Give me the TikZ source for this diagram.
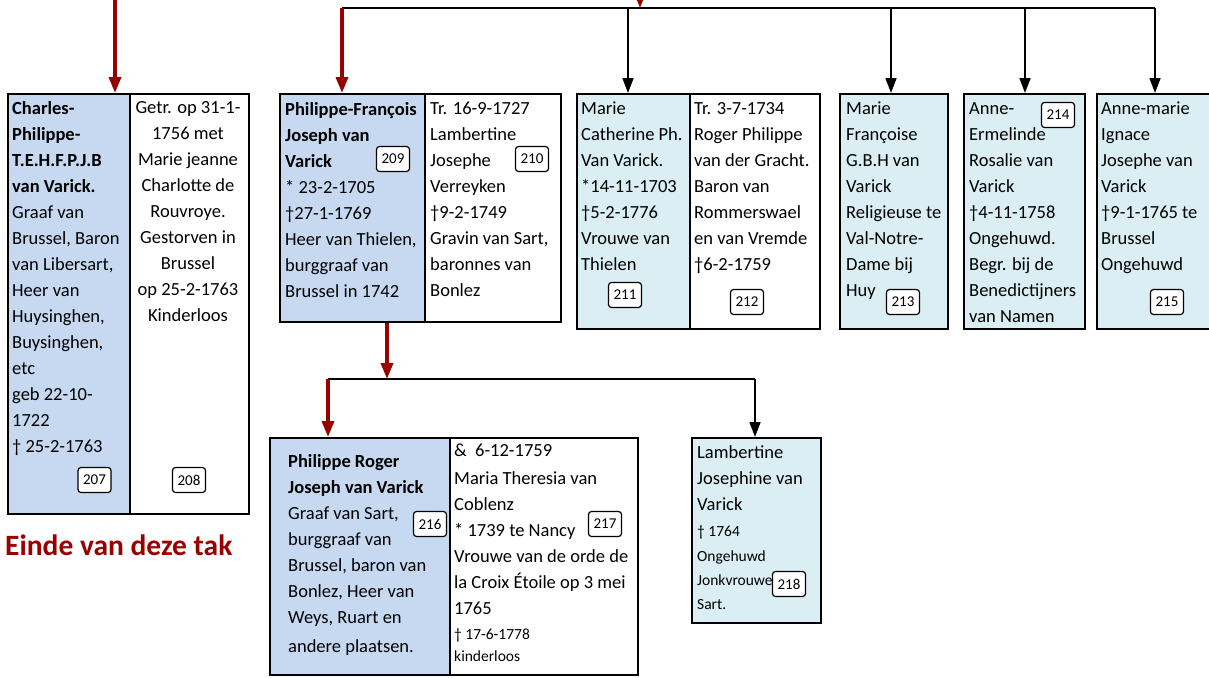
\documentclass[tikz,border=0pt]{standalone}
\usepackage{fontspec}
\setmainfont{Carlito}
\usetikzlibrary{arrows.meta}

\definecolor{mainblue}{RGB}{198,217,241}
\definecolor{sibblue}{RGB}{218,238,243}
\definecolor{linered}{RGB}{153,0,0}
\newcommand{\sm}{\fontsize{15.5}{20}\selectfont}

\begin{document}
\begin{tikzpicture}[x = 1pt, y = -1pt,
    famline/.style = {line width = 1.6pt},
    redarr/.style = {draw = linered, line width = 3.5pt, -{Triangle[width = 12pt, length = 16pt]}},
    blkarr/.style = {line width = 1.6pt, -{Triangle[width = 11pt, length = 15pt]}},
    cell/.style = {draw, line width = 1.6pt, anchor = north west, inner sep = 0pt},
    mainbox/.style = {cell, fill = mainblue},
    sibbox/.style = {cell, fill = sibblue},
    spousebox/.style = {cell, fill = white},
    txt/.style = {anchor = north west, align = left, inner sep = 0pt, font = \fontsize{18.5}{26}\selectfont},
    tag/.style = {draw, fill = white, rounded corners = 3pt, line width = 1.2pt, minimum width = 33pt,
        minimum height = 25pt, inner sep = 0pt, font = \fontsize{15}{18}\selectfont}]
    \useasboundingbox (0,0) rectangle (1209,677);
    \clip (0,0) rectangle (1209,677);

    % boxes
    \node[mainbox, minimum width = 122pt, minimum height = 420pt] (p207) at (7,93) {};
    \node[spousebox, minimum width = 119pt, minimum height = 420pt] (p208) at (129,93) {};
    \node[mainbox, minimum width = 145pt, minimum height = 228pt] (p209) at (279,93) {};
    \node[spousebox, minimum width = 136pt, minimum height = 228pt] (p210) at (424,93) {};
    \node[sibbox, minimum width = 113pt, minimum height = 235pt] (p211) at (576,93) {};
    \node[spousebox, minimum width = 130pt, minimum height = 235pt] (p212) at (689,93) {};
    \node[sibbox, minimum width = 108pt, minimum height = 235pt] (p213) at (839,93) {};
    \node[sibbox, minimum width = 121pt, minimum height = 235pt] (p214) at (963,93) {};
    \node[sibbox, minimum width = 125pt, minimum height = 235pt] (p215) at (1096,93) {};
    \node[mainbox, minimum width = 180pt, minimum height = 237pt] (p216) at (269,437) {};
    \node[spousebox, minimum width = 188pt, minimum height = 237pt] (p217) at (449,437) {};
    \node[sibbox, minimum width = 129pt, minimum height = 185pt] (p218) at (691,437) {};

    % texts
    \node[txt] (t207) at (12,101) {\textbf{Charles-}\\\textbf{Philippe-}\\\textbf{T.E.H.F.P.J.B}\\\textbf{van Varick.}\\
        Graaf van\\Brussel, Baron\\van Libersart,\\Heer van\\Huysinghen,\\Buysinghen,\\etc\\geb 22-10-\\1722\\† 25-2-1763};
    \node[txt, anchor = north, align = center] (t208) at (188,101) {Getr. op 31-1-\\1756 met\\Marie jeanne\\
        Charlotte de\\Rouvroye.\\Gestorven in\\Brussel\\op 25-2-1763\\Kinderloos};
    \node[txt] (t209) at (285,102) {\textbf{Philippe-François}\\\textbf{Joseph van}\\\textbf{Varick}\\* 23-2-1705\\
        †27-1-1769\\Heer van Thielen,\\burggraaf van\\Brussel in 1742};
    \node[txt] (t210) at (430,102) {Tr. 16-9-1727\\Lambertine\\Josephe\\Verreyken\\†9-2-1749\\Gravin van Sart,\\
        baronnes van\\Bonlez};
    \node[txt] (t211) at (581,102) {Marie\\Catherine Ph.\\Van Varick.\\*14-11-1703\\†5-2-1776\\Vrouwe van\\Thielen};
    \node[txt] (t212) at (694,102) {Tr. 3-7-1734\\Roger Philippe\\van der Gracht.\\Baron van\\Rommerswael\\
        en van Vremde\\†6-2-1759};
    \node[txt] (t213) at (846,102) {Marie\\Françoise\\G.B.H van\\Varick\\Religieuse te\\Val-Notre-\\Dame bij\\Huy};
    \node[txt] (t214) at (969,102) {Anne-\\Ermelinde\\Rosalie van\\Varick\\†4-11-1758\\Ongehuwd.\\Begr. bij de\\
        Benedictijners\\van Namen};
    \node[txt] (t215) at (1101,102) {Anne-marie\\Ignace\\Josephe van\\Varick\\†9-1-1765 te\\Brussel\\Ongehuwd};
    \node[txt] (t216) at (288,454) {\textbf{Philippe Roger}\\\textbf{Joseph van Varick}\\Graaf van Sart,\\burggraaf van\\
        Brussel, baron van\\Bonlez, Heer van\\Weys, Ruart en\\[3pt]andere plaatsen.};
    \node[txt] (t217) at (454,444) {\&\ \ 6-12-1759\\[2pt]Maria Theresia van\\Coblenz\\* 1739 te Nancy\\
        Vrouwe van de orde de\\la Croix Étoile op 3 mei\\1765\\[-1pt]{\sm † 17-6-1778}\\[-4pt]{\sm kinderloos}};
    \node[txt] (t218) at (697,445) {Lambertine\\Josephine van\\Varick\\{\sm † 1764}\\[-1pt]{\sm Ongehuwd}\\[-2pt]
        {\sm Jonkvrouwe}\\[-2pt]{\sm Sart.}};
    \node[font = \fontsize{29.5}{32}\selectfont\bfseries, text = linered, anchor = west, inner sep = 0pt]
        (einde) at (5,545) {Einde van deze tak};

    % numbers
    \node[tag] (n207) at (94.5,480) {207};
    \node[tag] (n208) at (189,480) {208};
    \node[tag] (n209) at (393,159) {209};
    \node[tag] (n210) at (532,159) {210};
    \node[tag] (n211) at (625,295) {211};
    \node[tag] (n212) at (747,302) {212};
    \node[tag] (n213) at (903,302) {213};
    \node[tag] (n214) at (1058,115) {214};
    \node[tag] (n215) at (1167,302) {215};
    \node[tag] (n216) at (430,524) {216};
    \node[tag] (n217) at (605,524) {217};
    \node[tag] (n218) at (789,584) {218};

    % connectors
    \coordinate (top207) at (115,-20);
    \draw[redarr] (top207) -- (top207 |- p207.north);
    \coordinate (topfam) at (640,-20);
    \coordinate (barL) at (342,8);
    \coordinate (barR) at (1155,8);
    \draw[famline] (barL) -- (barR);
    \draw[redarr] (topfam) -- (topfam |- barL);
    \draw[redarr] (barL) -- (barL |- p209.north);
    \foreach \x/\n in {628/211, 891/213, 1025/214, 1155/215}{
        \coordinate (d\n) at (\x,8);
        \draw[blkarr] (d\n) -- (d\n |- p\n.north);
    }
    \coordinate (barL2) at (328,379);
    \coordinate (barR2) at (755,379);
    \draw[famline] (barL2) -- (barR2);
    \coordinate (d209) at ([xshift = 108pt]p209.south west);
    \draw[redarr] (d209) -- (d209 |- barL2);
    \draw[redarr] (barL2) -- (barL2 |- p216.north);
    \draw[blkarr] (barR2) -- (barR2 |- p218.north);
\end{tikzpicture}
\end{document}
